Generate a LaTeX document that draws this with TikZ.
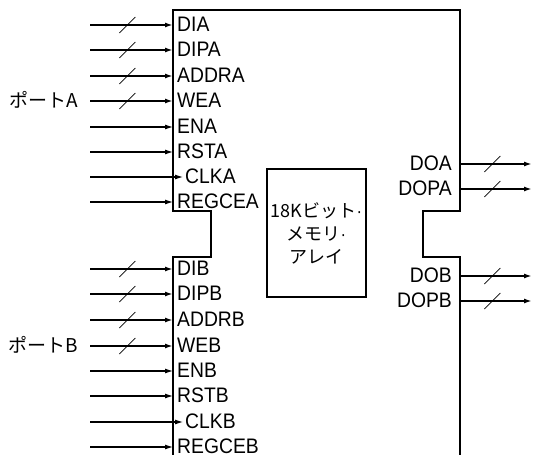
\documentclass[tikz,border=0pt]{standalone}
\usepackage{fontspec}
\setmainfont{Liberation Sans}[FakeStretch=0.92]
\newfontfamily\jpfont{Noto Sans CJK JP}
\usepackage{tikz}
\usetikzlibrary{arrows.meta,positioning}

\tikzset{
  pinin/.style={font=\fontsize{21}{23}\selectfont, inner xsep=4pt, text height=12pt, text depth=0pt, anchor=west},
  pinout/.style={font=\fontsize{21}{23}\selectfont, inner xsep=8pt, text height=12pt, text depth=0pt, anchor=east},
  sig/.style={line width=1.1pt, -{Latex[length=8pt,width=5pt]}},
  bus/.style={sig, line width=1.6pt},
  slash/.style={line width=0.7pt},
  outline/.style={line width=2pt}
}

\begin{document}
\begin{tikzpicture}[x=1pt,y=-1pt]
  \useasboundingbox (0,0) rectangle (533,455);

  % block outline with the two ports
  \draw[outline] (173,470) -- (173,257) -- (211,257) -- (211,211) -- (173,211) -- (173,10)
    -- (460,10) -- (460,211) -- (423,211) -- (423,257) -- (460,257) -- (460,470);

  % memory array
  \node[draw, outline, minimum width=99pt, minimum height=128pt, align=center,
        font=\jpfont\fontsize{18}{23}\selectfont] (mem) at (316.5,233)
        {18Kビット{\rmfamily ·}\\メモリ{\rmfamily ·}\\アレイ};

  % port A
  \node[font=\jpfont\fontsize{19}{20}\selectfont, anchor=east] (portA) at (82,100) {ポートA};
  \foreach \nm/\yy in {DIA/25, DIPA/50, ADDRA/76, WEA/101}{
    \node[pinin] (\nm) at (173,\yy) {\nm};
    \coordinate (\nm-in) at (90,\yy);
    \draw[bus] (\nm-in) -- node[coordinate, pos=.45] (\nm-s) {} (\nm.west);
    \draw[slash] ([shift={(-8,8)}]\nm-s) -- ([shift={(8,-8)}]\nm-s);
  }
  \foreach \nm/\yy in {ENA/127, RSTA/152, REGCEA/202}{
    \node[pinin] (\nm) at (173,\yy) {\nm};
    \coordinate (\nm-in) at (90,\yy);
    \draw[sig] (\nm-in) -- (\nm.west);
  }
  \node[pinin, inner xsep=2pt] (CLKA) at (183,177) {CLKA};
  \coordinate (CLKA-in) at (90,177);
  \draw[sig] (CLKA-in) -- (CLKA.west);

  % port B
  \node[font=\jpfont\fontsize{19}{20}\selectfont, anchor=east] (portB) at (82,345) {ポートB};
  \foreach \nm/\yy in {DIB/269, DIPB/294, ADDRB/320, WEB/346}{
    \node[pinin] (\nm) at (173,\yy) {\nm};
    \coordinate (\nm-in) at (90,\yy);
    \draw[bus] (\nm-in) -- node[coordinate, pos=.45] (\nm-s) {} (\nm.west);
    \draw[slash] ([shift={(-8,8)}]\nm-s) -- ([shift={(8,-8)}]\nm-s);
  }
  \foreach \nm/\yy in {ENB/371, RSTB/396, REGCEB/447}{
    \node[pinin] (\nm) at (173,\yy) {\nm};
    \coordinate (\nm-in) at (90,\yy);
    \draw[sig] (\nm-in) -- (\nm.west);
  }
  \node[pinin, inner xsep=2pt] (CLKB) at (183,422) {CLKB};
  \coordinate (CLKB-in) at (90,422);
  \draw[sig] (CLKB-in) -- (CLKB.west);

  % outputs
  \foreach \nm/\yy in {DOA/164, DOPA/189, DOB/276, DOPB/301}{
    \node[pinout] (\nm) at (460,\yy) {\nm};
    \coordinate (\nm-out) at (532,\yy);
    \draw[bus] (\nm.east) -- node[coordinate, pos=.45] (\nm-s) {} (\nm-out);
    \draw[slash] ([shift={(-8,8)}]\nm-s) -- ([shift={(8,-8)}]\nm-s);
  }
\end{tikzpicture}
\end{document}
